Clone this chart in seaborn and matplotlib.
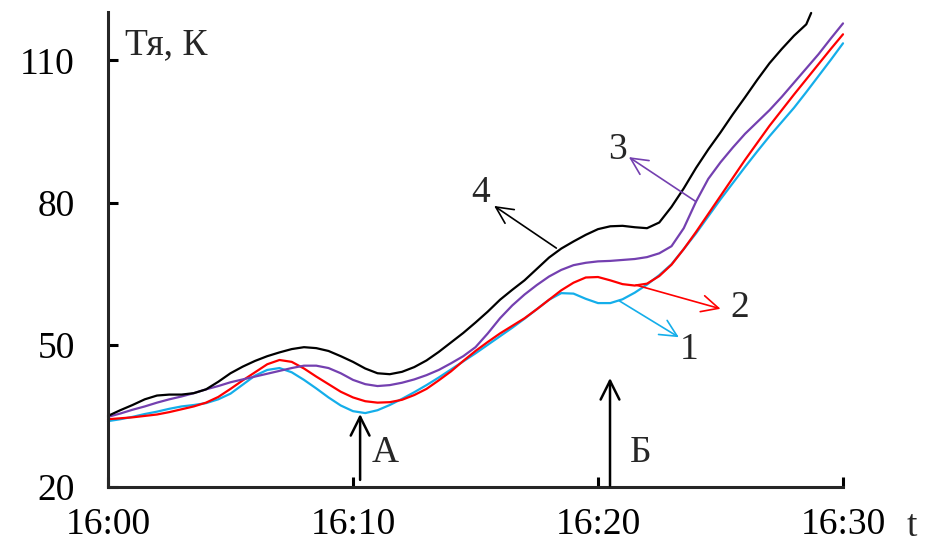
import numpy as np
import matplotlib
matplotlib.use("Agg")
import matplotlib.pyplot as plt
import pandas as pd
import seaborn as sns

# minutes after 16:00, read every half minute
minutes = [i / 2 for i in range(0, 61)]

# curve 1 (cyan)
temp_1 = [33.9, 34.3, 34.8, 35.4, 35.9, 36.5, 37.0, 37.3, 37.7, 38.5,
          39.7, 41.6, 43.5, 44.7, 45.1, 44.2, 42.6, 40.8, 38.9, 37.2,
          36.0, 35.6, 36.2, 37.3, 38.6, 40.0, 41.5, 43.1, 44.8, 46.5,
          48.2, 50.0, 51.8, 53.6, 55.5, 57.5, 59.5, 60.9, 60.8, 59.7,
          58.8, 58.8, 59.6, 61.0, 62.7, 64.7, 67.0, 70.2, 73.5, 77.1,
          80.7, 84.1, 87.5, 90.8, 94.0, 97.0, 100.0, 103.3, 106.7, 110.1,
          113.6]
# curve 2 (red)
temp_2 = [34.3, 34.5, 34.7, 35.0, 35.3, 35.8, 36.4, 37.0, 37.8, 39.0,
          40.7, 42.5, 44.2, 45.9, 46.8, 46.4, 45.0, 43.3, 41.7, 40.1,
          38.9, 38.1, 37.8, 37.9, 38.4, 39.4, 40.7, 42.5, 44.4, 46.6,
          48.7, 50.6, 52.4, 54.0, 55.6, 57.5, 59.5, 61.5, 63.1, 64.2,
          64.3, 63.6, 62.8, 62.5, 62.9, 64.5, 66.9, 70.2, 73.8, 77.6,
          81.4, 85.2, 89.0, 92.6, 96.2, 99.5, 102.8, 106.0, 109.2, 112.4,
          115.5]
# curve 3 (purple)
temp_3 = [34.8, 35.5, 36.3, 37.0, 37.8, 38.5, 39.1, 39.8, 40.6, 41.3,
          42.1, 42.7, 43.3, 43.9, 44.5, 45.1, 45.6, 45.6, 45.1, 44.0,
          42.6, 41.7, 41.3, 41.5, 42.0, 42.7, 43.6, 44.7, 46.1, 47.6,
          49.5, 52.4, 55.6, 58.3, 60.6, 62.6, 64.4, 65.8, 66.8, 67.3,
          67.6, 67.7, 67.9, 68.1, 68.5, 69.3, 70.8, 74.6, 80.2, 85.0,
          88.5, 91.6, 94.5, 97.0, 99.5, 102.3, 105.3, 108.3, 111.3, 114.6,
          117.8]
# curve 4 (black) runs out at the top of the axis
minutes_4 = [i / 2 for i in range(0, 58)] + [28.7]
temp_4 = [35.0, 36.2, 37.3, 38.5, 39.3, 39.5, 39.5, 39.8, 40.6, 42.2,
          44.0, 45.4, 46.6, 47.6, 48.4, 49.1, 49.5, 49.3, 48.7, 47.6,
          46.4, 45.0, 44.0, 43.8, 44.3, 45.3, 46.7, 48.5, 50.5, 52.5,
          54.7, 57.0, 59.5, 61.6, 63.6, 66.0, 68.4, 70.3, 71.8, 73.2,
          74.4, 75.0, 75.1, 74.8, 74.6, 75.8, 79.1, 83.0, 87.3, 91.2,
          94.8, 98.6, 102.2, 105.9, 109.4, 112.4, 115.2, 117.6, 120.0]

xticks = [0, 10, 20, 30]
xtick_labels = ["16:00", "16:10", "16:20", "16:30"]
yticks = [20, 50, 80, 110]

colors = {"1": "#14aeea", "2": "#ff0000", "3": "#7440b0", "4": "#000000"}

frames = [
    pd.DataFrame({"t": minutes, "T": temp_1, "curve": "1"}),
    pd.DataFrame({"t": minutes, "T": temp_2, "curve": "2"}),
    pd.DataFrame({"t": minutes, "T": temp_3, "curve": "3"}),
    pd.DataFrame({"t": minutes_4, "T": temp_4, "curve": "4"}),
]
df = pd.concat(frames, ignore_index=True)

sns.set_style("ticks")
plt.rcParams["font.family"] = ["Liberation Serif", "DejaVu Serif"]
plt.rcParams["font.size"] = 27

fig = plt.figure(figsize=(9.27, 5.46), dpi=100)
ax = fig.add_axes([0.1165, 0.108, 0.7929, 0.870])

sns.lineplot(data=df, x="t", y="T", hue="curve", palette=colors,
             linewidth=1.6, legend=False, ax=ax, sort=False,
             hue_order=["1", "2", "3", "4"], clip_on=False)

ax.set_xlim(0, 30)
ax.set_ylim(20, 120.2)
ax.set_xticks(xticks)
ax.set_xticklabels(xtick_labels)
ax.set_yticks(yticks)
ax.set_xlabel("")
ax.set_ylabel("")
for side in ["top", "right"]:
    ax.spines[side].set_visible(False)
for side in ["left", "bottom"]:
    ax.spines[side].set_linewidth(2.2)
ax.tick_params(axis="both", direction="in", length=7, width=2.2,
               labelsize=27, colors="black")
ax.tick_params(axis="x", pad=15)
ax.tick_params(axis="y", pad=24)

ax.text(0.7, 113.3, "Тя, К", fontsize=27, va="center", ha="left")
ax.text(32.8, 11.6, "t", fontsize=27, va="center", ha="center",
        clip_on=False)

# event arrows
big = dict(arrowstyle="->,head_length=0.5,head_width=0.25", color="black",
           lw=1.8, shrinkA=0, shrinkB=0)
ax.annotate("", xy=(10.29, 35.4), xytext=(10.29, 21.5), arrowprops=big)
ax.text(11.3, 27.2, "А", fontsize=27, ha="center", va="center")
ax.annotate("", xy=(20.49, 43.0), xytext=(20.49, 20.3), arrowprops=big)
ax.text(21.75, 27.2, "Б", fontsize=27, ha="center", va="center")


# curve labels with arrows from the curves
def label(txt, tail, head, pos, col):
    ax.annotate("", xy=head, xytext=tail,
                arrowprops=dict(arrowstyle="->,head_length=0.45,head_width=0.22",
                                color=col, lw=1.2, shrinkA=0, shrinkB=0))
    ax.text(pos[0], pos[1], txt, fontsize=27, ha="center", va="center")


label("4", (18.3, 70.4), (15.76, 79.3), (15.2, 82.0), colors["4"])
label("3", (24.0, temp_3[48]), (21.26, 89.6), (20.8, 91.1), colors["3"])
label("2", (21.55, 62.6), (25.0, 57.6), (25.8, 57.8), colors["2"])
label("1", (20.86, 59.3), (23.3, 51.6), (23.7, 48.9), colors["1"])

fig.savefig("out.png", dpi=100)
